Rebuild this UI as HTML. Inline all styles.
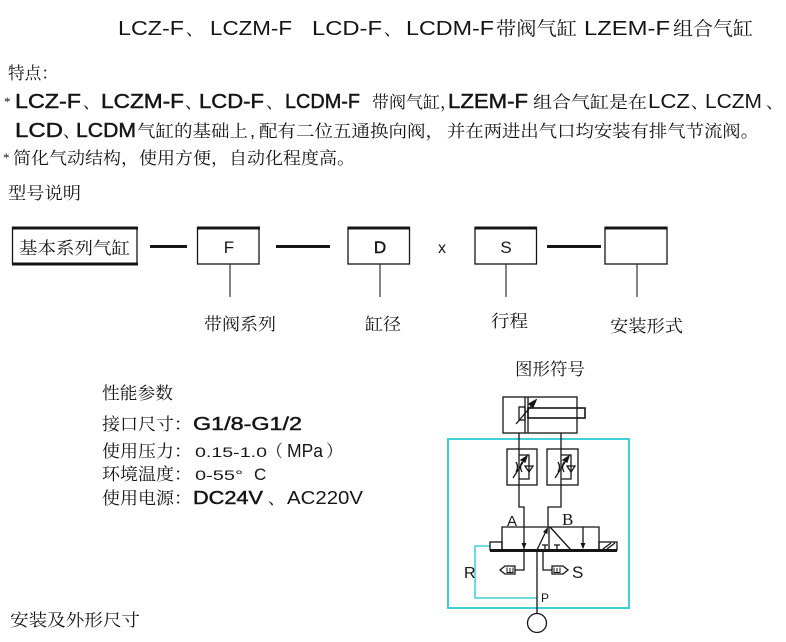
<!DOCTYPE html>
<html><head><meta charset="utf-8">
<style>
html,body{margin:0;padding:0;background:#fff;}
svg{display:block;}
.c{font-family:"Liberation Serif","Noto Serif CJK SC",serif;font-size:17px;fill:#151515;}
.l{font-family:"Liberation Sans",sans-serif;font-size:18px;fill:#151515;}
.t{font-size:20px;}
.b{stroke:#151515;stroke-width:0.45px;}
</style></head><body>
<svg width="786" height="642" viewBox="0 0 786 642" xmlns="http://www.w3.org/2000/svg">
<!-- Title -->
<text class="l t" x="118" y="35" textLength="66" lengthAdjust="spacingAndGlyphs">LCZ-F</text>
<text class="c" x="186" y="35">、</text>
<text class="l t" x="210" y="35" textLength="82" lengthAdjust="spacingAndGlyphs">LCZM-F</text>
<text class="l t" x="312" y="35" textLength="70" lengthAdjust="spacingAndGlyphs">LCD-F</text>
<text class="c" x="384" y="35">、</text>
<text class="l t" x="406" y="35" textLength="88" lengthAdjust="spacingAndGlyphs">LCDM-F</text>
<text class="c" x="496" y="35" style="font-size:19px" textLength="81" lengthAdjust="spacingAndGlyphs">带阀气缸</text>
<text class="l t" x="584" y="35" textLength="86" lengthAdjust="spacingAndGlyphs">LZEM-F</text>
<text class="c" x="673" y="35" style="font-size:19px" textLength="80" lengthAdjust="spacingAndGlyphs">组合气缸</text>

<!-- 特点 -->
<text class="c" x="8" y="79" textLength="50" lengthAdjust="spacingAndGlyphs">特点：</text>

<!-- Line 1 -->
<text class="c" x="4" y="106" style="font-size:13px">*</text>
<text class="l t b" x="15" y="108" textLength="66" lengthAdjust="spacingAndGlyphs">LCZ-F</text>
<text class="c" x="83" y="108">、</text>
<text class="l t b" x="101" y="108" textLength="83" lengthAdjust="spacingAndGlyphs">LCZM-F</text>
<text class="c" x="185" y="108">、</text>
<text class="l t b" x="199" y="108" textLength="65" lengthAdjust="spacingAndGlyphs">LCD-F</text>
<text class="c" x="266" y="108">、</text>
<text class="l t b" x="285" y="108" textLength="75" lengthAdjust="spacingAndGlyphs">LCDM-F</text>
<text class="c" x="372" y="108" textLength="85" lengthAdjust="spacingAndGlyphs">带阀气缸，</text>
<text class="l t b" x="448" y="108" textLength="80" lengthAdjust="spacingAndGlyphs">LZEM-F</text>
<text class="c" x="533" y="108" textLength="114" lengthAdjust="spacingAndGlyphs">组合气缸是在</text>
<text class="l t" x="648" y="108" textLength="42" lengthAdjust="spacingAndGlyphs">LCZ</text>
<text class="c" x="691" y="108">、</text>
<text class="l t" x="705" y="108" textLength="57" lengthAdjust="spacingAndGlyphs">LCZM</text>
<text class="c" x="766" y="108">、</text>

<!-- Line 2 -->
<text class="l t b" x="15" y="137" textLength="48" lengthAdjust="spacingAndGlyphs">LCD</text>
<text class="c" x="63" y="137">、</text>
<text class="l t b" x="76" y="137" textLength="60" lengthAdjust="spacingAndGlyphs">LCDM</text>
<text class="c" x="137" y="137" textLength="111" lengthAdjust="spacingAndGlyphs">气缸的基础上</text>
<text class="l" x="250" y="137">,</text>
<text class="c" x="259" y="137" textLength="185" lengthAdjust="spacingAndGlyphs">配有二位五通换向阀，</text>
<text class="c" x="447" y="137" textLength="312" lengthAdjust="spacingAndGlyphs">并在两进出气口均安装有排气节流阀。</text>

<!-- Line 3 -->
<text class="c" x="3" y="162" style="font-size:13px">*</text>
<text class="c" x="13" y="164" textLength="342" lengthAdjust="spacingAndGlyphs">简化气动结构，使用方便，自动化程度高。</text>

<!-- 型号说明 -->
<text class="c" x="8" y="199" textLength="73" lengthAdjust="spacingAndGlyphs">型号说明</text>

<!-- Model boxes -->
<g stroke="#151515" fill="none">
  <rect x="12.5" y="227.5" width="124.5" height="36.5" stroke-width="1.3"/>
  <line x1="12" y1="228" x2="138" y2="228" stroke-width="3"/>
  <line x1="12" y1="264" x2="138" y2="264" stroke-width="3"/>
  <rect x="197.5" y="227.5" width="61.5" height="36.5" stroke-width="1.3"/>
  <line x1="197" y1="228" x2="260" y2="228" stroke-width="3"/>
  <rect x="348" y="227.5" width="61.5" height="36.5" stroke-width="1.3"/>
  <line x1="347.5" y1="228" x2="410" y2="228" stroke-width="3"/>
  <rect x="475" y="227.5" width="61.5" height="36.5" stroke-width="1.3"/>
  <line x1="474.5" y1="228" x2="537" y2="228" stroke-width="3"/>
  <rect x="605" y="227.5" width="62" height="36.5" stroke-width="1.3"/>
  <line x1="604.5" y1="228" x2="667.5" y2="228" stroke-width="3"/>
  <line x1="150" y1="246.5" x2="187" y2="246.5" stroke-width="3"/>
  <line x1="276" y1="246.5" x2="330" y2="246.5" stroke-width="3"/>
  <line x1="547" y1="246.5" x2="601" y2="246.5" stroke-width="3"/>
  <g stroke="#333" stroke-width="1.2">
    <line x1="230" y1="264" x2="230" y2="297"/>
    <line x1="380" y1="264" x2="380" y2="297"/>
    <line x1="506" y1="264" x2="506" y2="297"/>
    <line x1="637" y1="264" x2="637" y2="297"/>
  </g>
</g>
<text class="c" x="19" y="254" textLength="111" lengthAdjust="spacingAndGlyphs">基本系列气缸</text>
<text class="l" x="229" y="253" text-anchor="middle" style="font-size:17px">F</text>
<text class="l b" x="380" y="253" text-anchor="middle" style="font-size:17px">D</text>
<text class="l" x="442" y="253" text-anchor="middle" style="font-size:16px">x</text>
<text class="l" x="506" y="253" text-anchor="middle" style="font-size:17px">S</text>
<text class="c" x="204" y="330" textLength="72" lengthAdjust="spacingAndGlyphs">带阀系列</text>
<text class="c" x="365" y="330" textLength="36" lengthAdjust="spacingAndGlyphs">缸径</text>
<text class="c" x="491" y="327" textLength="37" lengthAdjust="spacingAndGlyphs">行程</text>
<text class="c" x="610" y="332" textLength="73" lengthAdjust="spacingAndGlyphs">安装形式</text>

<!-- Performance -->
<text class="c" x="102" y="399" textLength="71" lengthAdjust="spacingAndGlyphs">性能参数</text>
<text class="c" x="102" y="430" textLength="90" lengthAdjust="spacingAndGlyphs">接口尺寸：</text>
<text class="l b" x="193" y="430" textLength="109" lengthAdjust="spacingAndGlyphs">G1/8-G1/2</text>
<text class="c" x="102" y="457" textLength="90" lengthAdjust="spacingAndGlyphs">使用压力：</text>
<text class="l" x="195" y="457" style="font-size:14px" textLength="72" lengthAdjust="spacingAndGlyphs">0.15-1.0</text>
<text class="c" x="266" y="457">（</text>
<text class="l" x="287" y="457" textLength="36" lengthAdjust="spacingAndGlyphs">MPa</text>
<text class="c" x="326" y="457">）</text>
<text class="c" x="102" y="480" textLength="90" lengthAdjust="spacingAndGlyphs">环境温度：</text>
<text class="l" x="195" y="480" style="font-size:14px" textLength="48" lengthAdjust="spacingAndGlyphs">0-55°</text>
<text class="l" x="254" y="480" style="font-size:17px">C</text>
<text class="c" x="102" y="504" textLength="90" lengthAdjust="spacingAndGlyphs">使用电源：</text>
<text class="l b" x="193" y="504" textLength="70" lengthAdjust="spacingAndGlyphs">DC24V</text>
<text class="c" x="268" y="504">、</text>
<text class="l" x="287" y="504" textLength="76" lengthAdjust="spacingAndGlyphs">AC220V</text>

<!-- Symbol title -->
<text class="c" x="515" y="375" textLength="70" lengthAdjust="spacingAndGlyphs">图形符号</text>

<!-- Schematic -->
<rect x="448" y="439" width="181" height="169" fill="none" stroke="#3fd0d8" stroke-width="2"/>
<path d="M490,546 H475 V598 H537" fill="none" stroke="#3fd0d8" stroke-width="1.5"/>
<g stroke="#151515" fill="none" stroke-width="1.3">
  <rect x="503" y="397" width="74" height="36"/>
  <line x1="525" y1="397" x2="525" y2="433"/>
  <line x1="528" y1="397" x2="528" y2="433"/>
  <rect x="519" y="407" width="6" height="13"/>
  <rect x="528" y="408" width="57" height="10" stroke-width="1.6"/>
  <line x1="516" y1="424" x2="533" y2="404"/>
  <path d="M536,400 L529,404 L533,407 Z" fill="#151515"/>
  <rect x="507" y="449" width="30" height="36"/>
  <rect x="547" y="449" width="31" height="36"/>
  <path d="M519,433 V507 H524 V570 H515"/>
  <path d="M561,433 V507 H548 V527"/>
  <path d="M519,455 H529 V479 H519"/>
  <path d="M525,466 H533 L529,472 Z"/>
  <path d="M516,462 Q519,467 516,472 M522,462 Q519,467 522,472"/>
  <line x1="513" y1="478" x2="525" y2="459"/>
  <path d="M527,456 L521,460 L525,462 Z" fill="#151515"/>
  <path d="M561,455 H571 V479 H561"/>
  <path d="M567,466 H575 L571,472 Z"/>
  <path d="M558,462 Q561,467 558,472 M564,462 Q561,467 564,472"/>
  <line x1="555" y1="478" x2="567" y2="459"/>
  <path d="M569,456 L563,460 L567,462 Z" fill="#151515"/>
  <path d="M502,550 V527 H599 V550"/>
  <line x1="549" y1="527" x2="549" y2="550"/>
  <rect x="490" y="542" width="12" height="8"/>
  <rect x="599" y="542" width="18" height="8"/>
  <path d="M603,549 L611,543 M607,549 L615,543"/>
  <line x1="537" y1="550" x2="547" y2="529"/>
  <line x1="550" y1="527" x2="571" y2="550"/>
  <path d="M545,550 V545 M542,545 H548 M557,550 V545 M554,545 H560"/>
  <line x1="583" y1="527" x2="583" y2="548"/>
  <path d="M543,550 V570 H552"/>
  <line x1="537" y1="550" x2="537" y2="613.5"/>
  <circle cx="537" cy="623" r="9.5"/>
  <path d="M515,566 H505 L500,570 L505,574 H515 Z"/>
  <path d="M507,567.5 V572.5 H513 V567.5 M510,568 V572.5" stroke-width="1"/>
  <path d="M552,566 H563 L568,570 L563,574 H552 Z"/>
  <path d="M554,567.5 V572.5 H560 V567.5 M557,568 V572.5" stroke-width="1"/>
</g>
<line x1="490" y1="550.5" x2="617" y2="550.5" stroke="#151515" stroke-width="3"/>
<g fill="#151515">
  <path d="M521.5,543 H526.5 L524,549 Z"/>
  <path d="M580.5,543 H585.5 L583,549 Z"/>
  <path d="M548,527 L543,532 L547.5,534 Z"/>
</g>
<text class="l" x="507" y="526" style="font-size:15px">A</text>
<text x="562" y="525" style="font-family:'Liberation Serif',serif;font-size:17px;fill:#151515">B</text>
<text class="l" x="464" y="578" style="font-size:16px">R</text>
<text class="l" x="572" y="578" style="font-size:17px">S</text>
<text class="l" x="541" y="602" style="font-size:12px">P</text>

<text class="c" x="10" y="626" textLength="130" lengthAdjust="spacingAndGlyphs">安装及外形尺寸</text>
</svg>
</body></html>
